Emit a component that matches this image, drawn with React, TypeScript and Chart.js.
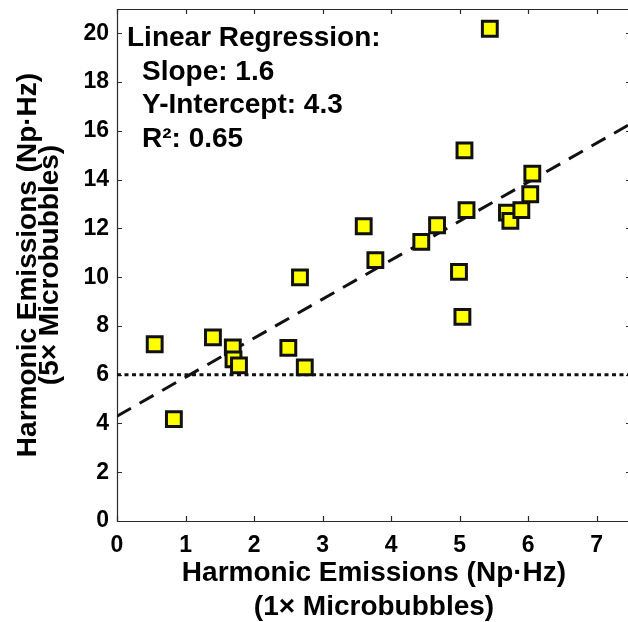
import { useEffect, useRef } from 'react';
import { Chart, registerables } from 'chart.js';

Chart.register(...registerables);

// Data
const xValues = [0.55, 0.83, 1.40, 1.69, 1.70, 1.78, 2.50, 2.67, 2.74, 3.60, 3.77, 4.44, 4.67, 4.99, 5.04, 5.07, 5.10, 5.44, 5.69, 5.74, 5.90, 6.03, 6.06];
const yValues = [7.25, 4.18, 7.53, 7.12, 6.63, 6.38, 7.10, 9.99, 6.30, 12.09, 10.70, 11.45, 12.13, 10.22, 8.37, 15.20, 12.75, 20.19, 12.65, 12.31, 12.75, 13.40, 14.25];

const fitX = [0, 7.5];
const fitY = [4.3, 16.3];

const thresholdX = [0, 7.5];
const thresholdY = [6, 6];

const xTitle = ['Harmonic Emissions (Np·Hz)', '(1× Microbubbles)'];
const yTitle = ['Harmonic Emissions (Np·Hz)', '(5× Microbubbles)'];
const annotationLines = ['Linear Regression:', 'Slope: 1.6', 'Y-Intercept: 4.3', 'R²: 0.65'];

const FONT = '"Liberation Sans", Arial, Helvetica, sans-serif';

const framePlugin = {
  id: 'frame',
  beforeDatasetsDraw(chart: any) {
    const { ctx, chartArea } = chart;
    const { left, right, top, bottom } = chartArea;
    const xs = chart.scales.x;
    const ys = chart.scales.y;
    ctx.save();
    ctx.strokeStyle = '#2a2a2a';
    ctx.lineWidth = 1.2;
    ctx.beginPath();
    ctx.moveTo(left + 0.5, top + 0.5);
    ctx.lineTo(right - 0.5, top + 0.5);
    ctx.lineTo(right - 0.5, bottom + 0.5);
    ctx.lineTo(left + 0.5, bottom + 0.5);
    ctx.closePath();
    ctx.stroke();
    const tl = 5;
    ctx.beginPath();
    xs.ticks.forEach((t: any) => {
      const px = Math.round(xs.getPixelForValue(t.value)) + 0.5;
      ctx.moveTo(px, bottom);
      ctx.lineTo(px, bottom - tl);
      ctx.moveTo(px, top);
      ctx.lineTo(px, top + tl);
    });
    ys.ticks.forEach((t: any) => {
      const py = Math.round(ys.getPixelForValue(t.value)) + 0.5;
      ctx.moveTo(left, py);
      ctx.lineTo(left + tl, py);
      ctx.moveTo(right, py);
      ctx.lineTo(right - tl, py);
    });
    ctx.stroke();
    ctx.restore();
  },
};

const annotationPlugin = {
  id: 'annot',
  afterDraw(chart: any) {
    const { ctx, chartArea } = chart;
    ctx.save();
    ctx.fillStyle = '#000';
    ctx.font = `bold 28px ${FONT}`;
    ctx.textBaseline = 'alphabetic';
    ctx.textAlign = 'left';
    const x0 = chartArea.left + 10;
    const y0 = chartArea.top + 37;
    annotationLines.forEach((line, i) => {
      ctx.fillText(line, i === 0 ? x0 : x0 + 15, y0 + i * 33.7);
    });
    ctx.restore();
  },
};

export default function App() {
  const ref = useRef<HTMLCanvasElement>(null);

  useEffect(() => {
    if (!ref.current) return;
    const chart = new Chart(ref.current, {
      type: 'scatter',
      data: {
        datasets: [
          {
            data: xValues.map((x, i) => ({ x, y: yValues[i] })),
            pointStyle: 'rect',
            pointRadius: 10.5,
            pointHoverRadius: 10.5,
            pointBackgroundColor: '#ffff00',
            pointBorderColor: '#111111',
            pointBorderWidth: 3,
            showLine: false,
            order: 0,
          },
          {
            data: fitX.map((x, i) => ({ x, y: fitY[i] })),
            showLine: true,
            pointRadius: 0,
            borderColor: '#111111',
            borderWidth: 3,
            borderDash: [16, 10],
            order: 1,
          },
          {
            data: thresholdX.map((x, i) => ({ x, y: thresholdY[i] })),
            showLine: true,
            pointRadius: 0,
            borderColor: '#111111',
            borderWidth: 3,
            borderDash: [4, 3.5],
            order: 2,
          },
        ],
      },
      options: {
        animation: false,
        responsive: false,
        layout: { autoPadding: false, padding: { top: 9, right: 1, left: 0, bottom: 0 } },
        plugins: {
          legend: { display: false },
          tooltip: { enabled: false },
        },
        scales: {
          x: {
            type: 'linear',
            min: 0,
            max: 7.5,
            grid: { display: false, drawTicks: false },
            border: { display: false },
            ticks: {
              stepSize: 1,
              includeBounds: false,
              color: '#000',
              padding: 11,
              maxRotation: 0,
              font: { family: FONT, size: 23, weight: 'bold' },
            },
            title: {
              display: true,
              text: xTitle,
              color: '#000',
              padding: { top: 0, bottom: -2 },
              font: { family: FONT, size: 28, weight: 'bold', lineHeight: '34px' },
            },
            afterFit: (s: any) => {
              s.height = 101;
              s.paddingLeft = 0;
              s.paddingRight = 0;
              s.paddingTop = 0;
              s.paddingBottom = 0;
            },
          },
          y: {
            type: 'linear',
            min: 0,
            max: 21,
            grid: { display: false, drawTicks: false },
            border: { display: false },
            ticks: {
              stepSize: 2,
              includeBounds: false,
              color: '#000',
              padding: 8,
              font: { family: FONT, size: 23, weight: 'bold' },
            },
            title: {
              display: true,
              text: yTitle,
              color: '#000',
              padding: { top: 17, bottom: 0 },
              font: { family: FONT, size: 28, weight: 'bold', lineHeight: '22px' },
            },
            afterFit: (s: any) => {
              s.width = 117;
              s.paddingLeft = 0;
              s.paddingRight = 0;
              s.paddingTop = 0;
              s.paddingBottom = 0;
            },
          },
        },
      },
      plugins: [framePlugin, annotationPlugin],
    });
    return () => chart.destroy();
  }, []);

  return (
    <div
      style={{
        position: 'fixed',
        left: 0,
        top: 0,
        width: 628,
        height: 622,
        overflow: 'hidden',
        background: '#fff',
      }}
    >
      <canvas ref={ref} width={632} height={622} style={{ display: 'block', width: 632, height: 622 }} />
    </div>
  );
}
